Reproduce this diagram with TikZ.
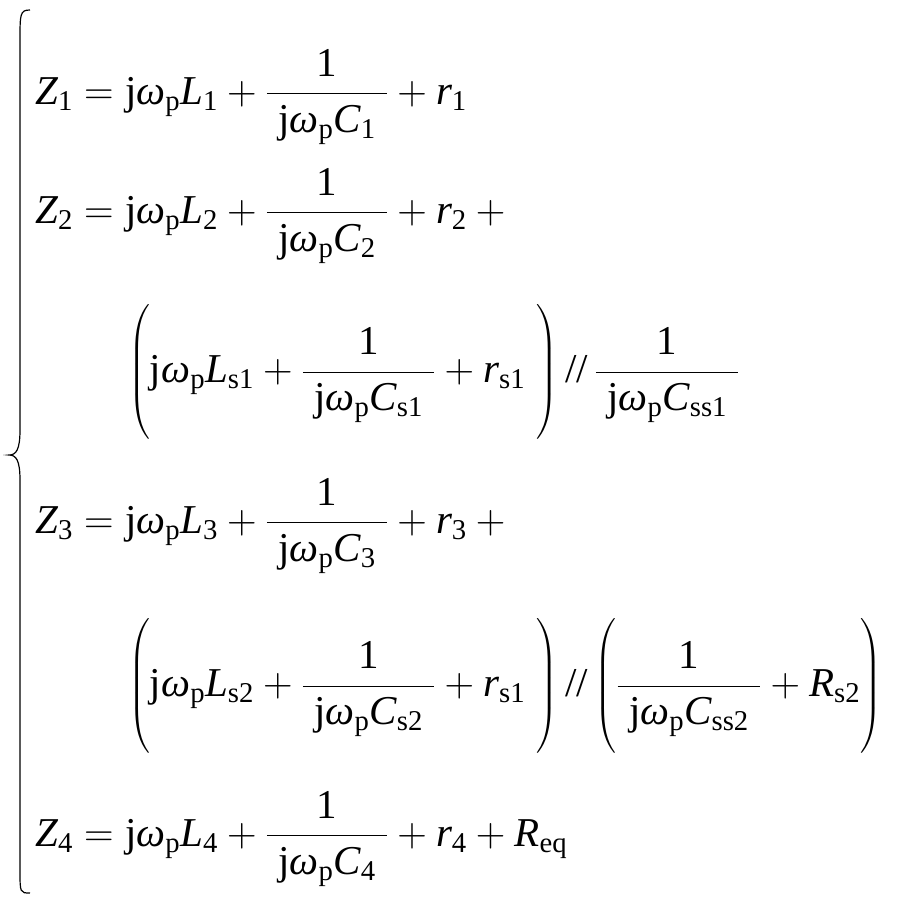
\RequirePackage{fix-cm}
\documentclass[tikz,border=0pt]{standalone}
\usepackage{amsmath}
\usepackage{fontspec}
\setmainfont{Liberation Serif}
\newcommand\V[1]{\text{\itshape #1}}
\newcommand\w{\text{\itshape ω}}
\newcommand\s[1]{_{\text{\upshape #1}}}
\newcommand\jw{\text{j}\w\s{p}}
\newcommand\fr[1]{\dfrac{\text{1}}{\;\jw #1\;}}
\newcommand\tall{\vphantom{\rule[-1.35em]{0pt}{2.95em}}}
\begin{document}
\begin{tikzpicture}[x=1pt,y=-1pt,eq/.style={anchor=west,inner sep=0pt,font=\fontsize{41}{46}\selectfont}]
\useasboundingbox (0,0) rectangle (912,903);
\draw[line width=1.2pt] (30,10) .. controls (20,10) and (20,14) .. (20,40) -- (20,430) .. controls (20,450) and (16,455) .. (9,455) .. controls (16,455) and (20,460) .. (20,480) -- (20,870) .. controls (20,893) and (20,893) .. (30,893);
\node[eq] (l1) at (35,97) {$\V{Z}\s{1} = \jw\V{L}\s{1} + \fr{\V{C}\s{1}} + \V{r}\s{1}$};
\node[eq] (l2) at (35,216) {$\V{Z}\s{2} = \jw\V{L}\s{2} + \fr{\V{C}\s{2}} + \V{r}\s{2} + {}$};
\node[eq] (l3) at (128,372) {$\left(\tall\jw\V{L}\s{s1} + \fr{\V{C}\s{s1}} + \V{r}\s{s1}\;\right)\text{//}\,\fr{\V{C}\s{ss1}}$};
\node[eq] (l4) at (35,526) {$\V{Z}\s{3} = \jw\V{L}\s{3} + \fr{\V{C}\s{3}} + \V{r}\s{3} + {}$};
\node[eq] (l5) at (128,686) {$\left(\tall\jw\V{L}\s{s2} + \fr{\V{C}\s{s2}} + \V{r}\s{s1}\;\right)\text{//}\left(\tall\fr{\V{C}\s{ss2}} + \V{R}\s{s2}\right)$};
\node[eq] (l6) at (35,839) {$\V{Z}\s{4} = \jw\V{L}\s{4} + \fr{\V{C}\s{4}} + \V{r}\s{4} + \V{R}\s{eq}$};
\end{tikzpicture}
\end{document}
